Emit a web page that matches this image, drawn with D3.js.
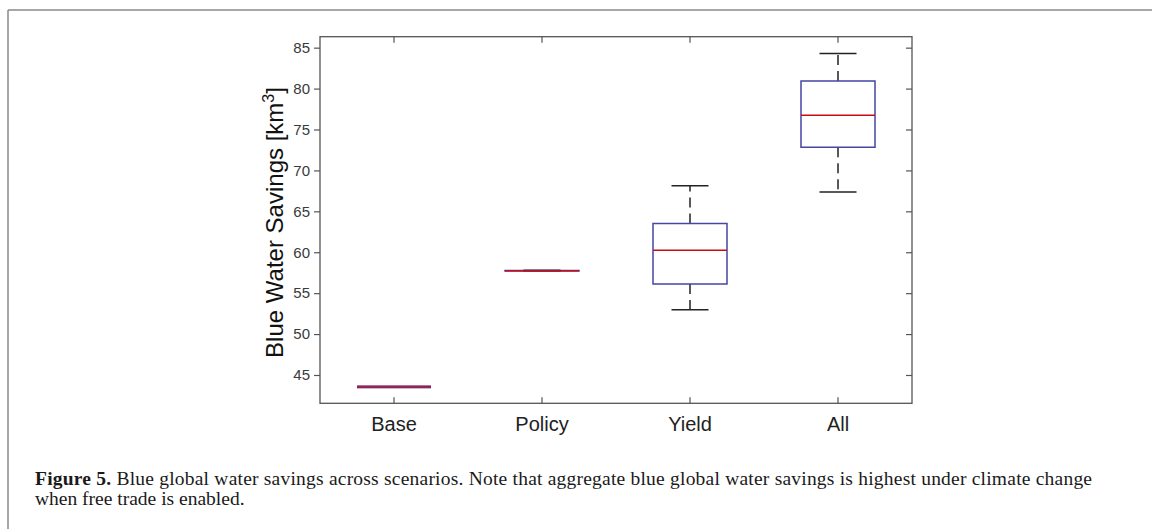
<!DOCTYPE html>
<html>
<head>
<meta charset="utf-8">
<script src="https://cdn.jsdelivr.net/npm/d3@7"></script>
<style>
  body { margin: 0; background: #fff; }
  svg { display: block; }
</style>
</head>
<body>
<script>
// scenario boxplot stats
var categories = ["Base", "Policy", "Yield", "All"];
var lowerWhisker = [43.55, 57.70, 52.97, 67.36];
var q1 = [43.55, 57.72, 56.11, 72.82];
var median = [43.55, 57.75, 60.23, 76.74];
var q3 = [43.55, 57.78, 63.50, 80.93];
var upperWhisker = [43.55, 57.80, 68.13, 84.30];
var yTicks = [45, 50, 55, 60, 65, 70, 75, 80, 85];

var width = 1152, height = 529;
var margin = {top: 36.7, right: 240, bottom: 125.7, left: 320};

var svg = d3.select("body").append("svg")
    .attr("width", width)
    .attr("height", height);

// page frame lines
svg.append("line")
    .attr("x1", 8).attr("x2", width).attr("y1", 10).attr("y2", 10)
    .attr("stroke", "#8a8a8a").attr("stroke-width", 1.5);
svg.append("line")
    .attr("x1", 8).attr("x2", 8).attr("y1", 10).attr("y2", height)
    .attr("stroke", "#8a8a8a").attr("stroke-width", 1.5);

var x = d3.scaleBand()
    .domain(categories)
    .range([margin.left, width - margin.right]);

var y = d3.scaleLinear()
    .domain([41.54, 86.34])
    .range([height - margin.bottom, margin.top]);

var data = categories.map(function(c, i) {
  return {
    name: c,
    lo: lowerWhisker[i],
    q1: q1[i],
    med: median[i],
    q3: q3[i],
    hi: upperWhisker[i]
  };
});

var axisColor = "#555";
var x0 = x.range()[0], x1 = x.range()[1];
var y0 = y.range()[0], y1 = y.range()[1];

// axes
var leftAxis = svg.append("g")
    .attr("transform", "translate(" + x0 + ",0)")
    .call(d3.axisLeft(y).tickValues(yTicks).tickSize(6).tickSizeOuter(0).tickPadding(4));

var rightAxis = svg.append("g")
    .attr("transform", "translate(" + x1 + ",0)")
    .call(d3.axisLeft(y).tickValues(yTicks).tickSize(6).tickSizeOuter(0).tickFormat(""));

var topAxis = svg.append("g")
    .attr("transform", "translate(0," + y1 + ")")
    .call(d3.axisBottom(x).tickSize(6).tickSizeOuter(0).tickFormat(""));

var bottomAxis = svg.append("g")
    .attr("transform", "translate(0," + y0 + ")")
    .call(d3.axisTop(x).tickSize(6).tickSizeOuter(0).tickFormat(""));

[leftAxis, rightAxis, topAxis, bottomAxis].forEach(function(g) {
  g.select(".domain").remove();
  g.selectAll(".tick line").attr("stroke", axisColor).attr("stroke-width", 1.2);
});

leftAxis.selectAll(".tick text")
    .attr("font-family", "Liberation Sans, Arial, sans-serif")
    .attr("font-size", 15)
    .attr("fill", "#3a3a3a");

svg.append("rect")
    .attr("x", x0).attr("y", y1)
    .attr("width", x1 - x0).attr("height", y0 - y1)
    .attr("fill", "none")
    .attr("stroke", axisColor)
    .attr("stroke-width", 1.3);

// category labels
svg.append("g").selectAll("text")
    .data(categories)
    .enter().append("text")
    .attr("x", function(d) { return x(d) + x.bandwidth() / 2; })
    .attr("y", 431)
    .attr("text-anchor", "middle")
    .attr("font-family", "Liberation Sans, Arial, sans-serif")
    .attr("font-size", 20)
    .attr("fill", "#222")
    .text(function(d) { return d; });

// y label
var ylab = svg.append("text")
    .attr("transform", "translate(283," + 222.5 + ") rotate(-90)")
    .attr("text-anchor", "middle")
    .attr("font-family", "Liberation Sans, Arial, sans-serif")
    .attr("font-size", 24)
    .attr("fill", "#111");
ylab.append("tspan").text("Blue Water Savings [km");
ylab.append("tspan").attr("dy", -9).attr("font-size", 16).text("3");
ylab.append("tspan").attr("dy", 9).text("]");

// boxes
var boxW = x.bandwidth() * 0.5;
var capW = x.bandwidth() * 0.25;

var boxes = svg.append("g").selectAll("g")
    .data(data)
    .enter().append("g")
    .attr("transform", function(d) { return "translate(" + (x(d.name) + x.bandwidth() / 2) + ",0)"; });

// dashed whiskers
boxes.append("line")
    .attr("x1", 0).attr("x2", 0)
    .attr("y1", function(d) { return y(d.q3); })
    .attr("y2", function(d) { return y(d.hi); })
    .attr("stroke", "#222").attr("stroke-width", 1.5)
    .attr("stroke-dasharray", "10,6");
boxes.append("line")
    .attr("x1", 0).attr("x2", 0)
    .attr("y1", function(d) { return y(d.q1); })
    .attr("y2", function(d) { return y(d.lo); })
    .attr("stroke", "#222").attr("stroke-width", 1.5)
    .attr("stroke-dasharray", "10,6");

// caps
boxes.append("line")
    .attr("x1", -capW / 2).attr("x2", capW / 2)
    .attr("y1", function(d) { return y(d.hi); })
    .attr("y2", function(d) { return y(d.hi); })
    .attr("stroke", "#222").attr("stroke-width", 1.5);
boxes.append("line")
    .attr("x1", -capW / 2).attr("x2", capW / 2)
    .attr("y1", function(d) { return y(d.lo); })
    .attr("y2", function(d) { return y(d.lo); })
    .attr("stroke", "#222").attr("stroke-width", 1.5);

// a collapsed box is drawn thicker so box and median blend
function flat(d) { return d.q1 === d.q3; }

// box as a path so a zero-height box still draws
boxes.append("path")
    .attr("d", function(d) {
      var p = d3.path();
      p.rect(-boxW / 2, y(d.q3), boxW, y(d.q1) - y(d.q3));
      return p.toString();
    })
    .attr("fill", "none")
    .attr("stroke", "#4646a6")
    .attr("stroke-width", function(d) { return flat(d) ? 2.6 : 1.5; });

boxes.append("line")
    .attr("x1", -boxW / 2).attr("x2", boxW / 2)
    .attr("y1", function(d) { return y(d.med); })
    .attr("y2", function(d) { return y(d.med); })
    .attr("stroke", "#cc0a14")
    .attr("stroke-opacity", function(d) { return flat(d) ? 0.55 : 1; })
    .attr("stroke-width", function(d) { return flat(d) ? 2.6 : 1.5; });

// caption
var capFont = "Liberation Serif, Times New Roman, serif";
var cap1 = svg.append("text")
    .attr("x", 35).attr("y", 485)
    .attr("font-family", capFont)
    .attr("font-size", 19.5)
    .attr("fill", "#1a1a1a")
    .attr("textLength", 1057)
    .attr("lengthAdjust", "spacing");
cap1.append("tspan").attr("font-weight", "bold").text("Figure 5.");
cap1.append("tspan").text(" Blue global water savings across scenarios. Note that aggregate blue global water savings is highest under climate change");

svg.append("text")
    .attr("x", 35).attr("y", 505)
    .attr("font-family", capFont)
    .attr("font-size", 19.5)
    .attr("fill", "#1a1a1a")
    .text("when free trade is enabled.");
</script>
</body>
</html>
